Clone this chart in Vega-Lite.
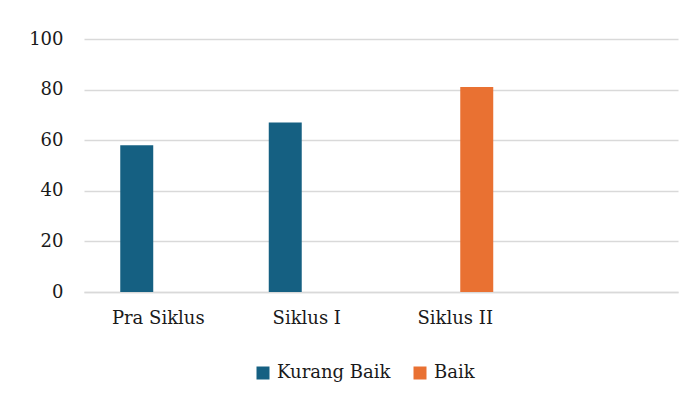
{
  "$schema": "https://vega.github.io/schema/vega-lite/v6.json",
  "width": 594,
  "height": 253,
  "autosize": {"type": "none"},
  "padding": {"left": 84, "top": 39, "right": 16, "bottom": 109},
  "background": "white",
  "data": {
    "values": [
      {"siklus": "Pra Siklus", "kategori": "Kurang Baik", "nilai": 58},
      {"siklus": "Siklus I", "kategori": "Kurang Baik", "nilai": 67},
      {"siklus": "Siklus II", "kategori": "Baik", "nilai": 81}
    ]
  },
  "mark": {"type": "bar"},
  "encoding": {
    "x": {
      "field": "siklus",
      "type": "nominal",
      "sort": null,
      "scale": {"domain": ["Pra Siklus", "Siklus I", "Siklus II", ""], "paddingInner": 0, "paddingOuter": 0},
      "axis": {
        "title": null,
        "labelAngle": 0,
        "ticks": false,
        "domainColor": "#d9d9d9",
        "domainWidth": 1.5,
        "labelFont": "DejaVu Serif",
        "labelFontSize": 18,
        "labelColor": "#1a1a1a",
        "labelPadding": 17,
        "grid": false
      }
    },
    "xOffset": {
      "field": "kategori",
      "type": "nominal",
      "scale": {"domain": ["Kurang Baik", "Baik"], "paddingInner": 0.233, "paddingOuter": 0.843}
    },
    "y": {
      "field": "nilai",
      "type": "quantitative",
      "scale": {"domain": [0, 100], "nice": false},
      "axis": {
        "title": null,
        "values": [0, 20, 40, 60, 80, 100],
        "domain": false,
        "ticks": false,
        "gridColor": "#d9d9d9",
        "gridWidth": 1.5,
        "labelFont": "DejaVu Serif",
        "labelFontSize": 18,
        "labelColor": "#1a1a1a",
        "labelPadding": 21
      }
    },
    "color": {
      "field": "kategori",
      "type": "nominal",
      "scale": {"domain": ["Kurang Baik", "Baik"], "range": ["#156082", "#E97132"]},
      "legend": {
        "title": null,
        "orient": "none",
        "direction": "horizontal",
        "legendX": 170,
        "legendY": 325,
        "symbolType": "square",
        "symbolSize": 169,
        "symbolStrokeWidth": 0,
        "symbolOpacity": 1,
        "labelFont": "DejaVu Serif",
        "labelFontSize": 18,
        "labelColor": "#1a1a1a",
        "labelOffset": 5,
        "columnPadding": 20
      }
    }
  },
  "config": {
    "view": {"stroke": null}
  }
}
